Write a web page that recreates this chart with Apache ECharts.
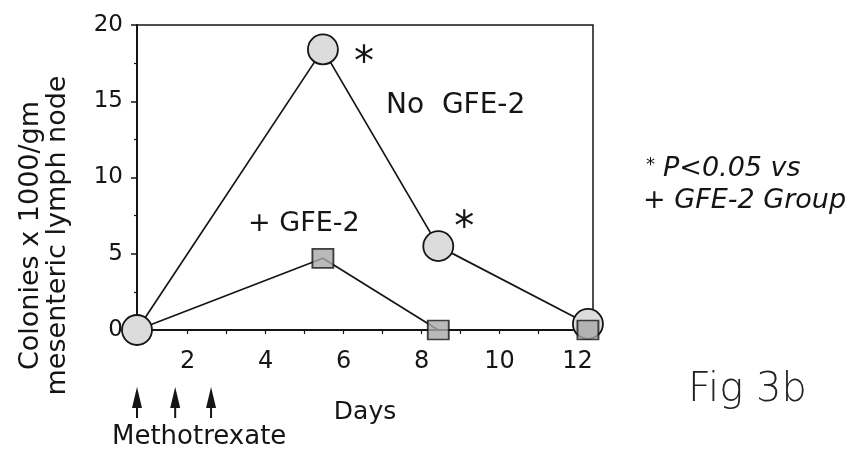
<!DOCTYPE html>
<html>
<head>
<meta charset="utf-8">
<script src="https://cdn.jsdelivr.net/npm/echarts@6/dist/echarts.min.js"></script>
<style>
  html, body { margin: 0; padding: 0; background: #fff; }
  #chart { width: 862px; height: 456px; }
</style>
</head>
<body>
<div id="chart"></div>
<script>
// Sampling days and colony counts (x 1000 per gm of mesenteric lymph node)
const days = [0.7, 5.47, 8.43, 12.27];
const noGfe2 = [0, 18.4, 5.5, 0.4];
const plusGfe2 = [0, 4.7, 0, 0];
// P<0.05 versus the + GFE-2 group
const significant = [false, true, true, false];
// Methotrexate dosing days
const doseDays = [0.7, 1.68, 2.6];

const FONT = '"DejaVu Sans", "Liberation Sans", sans-serif';
const INK = '#151515';

const chart = echarts.init(document.getElementById('chart'), null, { renderer: 'canvas' });

const pairs = (ys) => days.map((d, i) => [d, ys[i]]);

chart.setOption({
  animation: false,
  backgroundColor: '#ffffff',
  grid: {
    left: 137, top: 25, width: 456, height: 305,
    outerBoundsMode: 'none',
    containLabel: false,
    show: true, borderColor: INK, borderWidth: 1.5, backgroundColor: 'transparent'
  },
  xAxis: {
    type: 'value',
    min: 0.7, max: 12.4, splitNumber: 6,
    name: 'Days', nameLocation: 'middle', nameGap: 70,
    nameTextStyle: { fontFamily: FONT, fontSize: 25, color: INK },
    axisLine: { show: true, lineStyle: { color: INK, width: 2 } },
    axisTick: { show: true, length: 4, lineStyle: { color: INK, width: 1.2 } },
    minorTick: { show: true, splitNumber: 2, length: 4, lineStyle: { color: INK, width: 1.2 } },
    splitLine: { show: false },
    axisLabel: {
      fontFamily: FONT, fontSize: 24, color: INK, margin: 20,
      showMinLabel: false, showMaxLabel: false
    }
  },
  yAxis: {
    type: 'value',
    min: 0, max: 20, interval: 5,
    name: 'Colonies x 1000/gm\nmesenteric lymph node',
    nameLocation: 'middle', nameRotate: 90, nameGap: 66,
    nameTextStyle: { fontFamily: FONT, fontSize: 27, lineHeight: 27, color: INK, padding: [0, 116, 0, 0] },
    axisLine: { show: true, lineStyle: { color: INK, width: 2 } },
    axisTick: { show: true, length: 6, lineStyle: { color: INK, width: 1.5 } },
    minorTick: { show: true, splitNumber: 2, length: 3, lineStyle: { color: INK, width: 1.2 } },
    splitLine: { show: false },
    axisLabel: {
      fontFamily: FONT, fontSize: 23, color: INK, margin: 14, align: 'right',
      // figure-space pad keeps one- and two-digit labels flush right
      formatter: (v) => (v < 10 ? '\u2007' : '') + v
    }
  },
  series: [
    {
      // + GFE-2 connecting line, drawn beneath everything
      name: '+ GFE-2 line',
      type: 'line',
      data: pairs(plusGfe2),
      showSymbol: false,
      symbol: 'none',
      z: 1,
      clip: false,
      lineStyle: { color: INK, width: 1.7 }
    },
    {
      name: 'No GFE-2',
      type: 'line',
      data: pairs(noGfe2),
      symbol: 'circle',
      symbolSize: 30,
      z: 2,
      clip: false,
      lineStyle: { color: INK, width: 1.7 },
      itemStyle: { color: '#dcdcdc', borderColor: INK, borderWidth: 1.8 },
      label: {
        show: true,
        position: 'inside',
        fontFamily: FONT,
        fontSize: 40,
        color: INK,
        formatter: (p) => (significant[p.dataIndex] ? '*' : '')
      },
      labelLayout: (p) => {
        const offs = { 1: [41, 15], 2: [26, -17] };
        const o = offs[p.dataIndex];
        if (!o) return {};
        return { dx: o[0], dy: o[1] };
      }
    },
    {
      // + GFE-2 markers on top of the circles
      name: '+ GFE-2',
      type: 'scatter',
      data: pairs(plusGfe2).slice(1),
      symbol: 'rect',
      symbolSize: [21, 19],
      z: 3,
      clip: false,
      itemStyle: { color: '#a9a9a9', borderColor: INK, borderWidth: 1.8 }
    }
  ]
});

// Annotations, dosing arrows and figure caption
const graphics = [
  { type: 'text', left: 386, top: 92, style: { text: 'No  GFE-2', font: '28px ' + FONT, fill: INK } },
  { type: 'text', left: 248, top: 210, style: { text: '+ GFE-2', font: '27px ' + FONT, fill: INK } },
  { type: 'text', left: 646, top: 156, style: { text: '*', font: '18px ' + FONT, fill: INK } },
  { type: 'text', left: 663, top: 155, style: { text: 'P<0.05 vs', font: 'italic 27px ' + FONT, fill: INK } },
  { type: 'text', left: 643, top: 187, style: { text: '+ GFE-2 Group', font: 'italic 27px ' + FONT, fill: INK } },
  { type: 'text', left: 688, top: 371, style: { text: 'Fig 3b', font: '200 40px ' + FONT, fill: '#222' } },
  { type: 'text', left: 112, top: 424, style: { text: 'Methotrexate', font: '26px ' + FONT, fill: INK } }
];

doseDays.forEach((d) => {
  const x = chart.convertToPixel({ xAxisIndex: 0 }, d);
  graphics.push({
    type: 'polygon',
    shape: { points: [[x, 387], [x - 5, 408], [x + 5, 408]] },
    style: { fill: INK }
  });
  graphics.push({
    type: 'line',
    shape: { x1: x, y1: 405, x2: x, y2: 418 },
    style: { stroke: INK, lineWidth: 2 }
  });
});

chart.setOption({ graphic: graphics });
</script>
</body>
</html>
